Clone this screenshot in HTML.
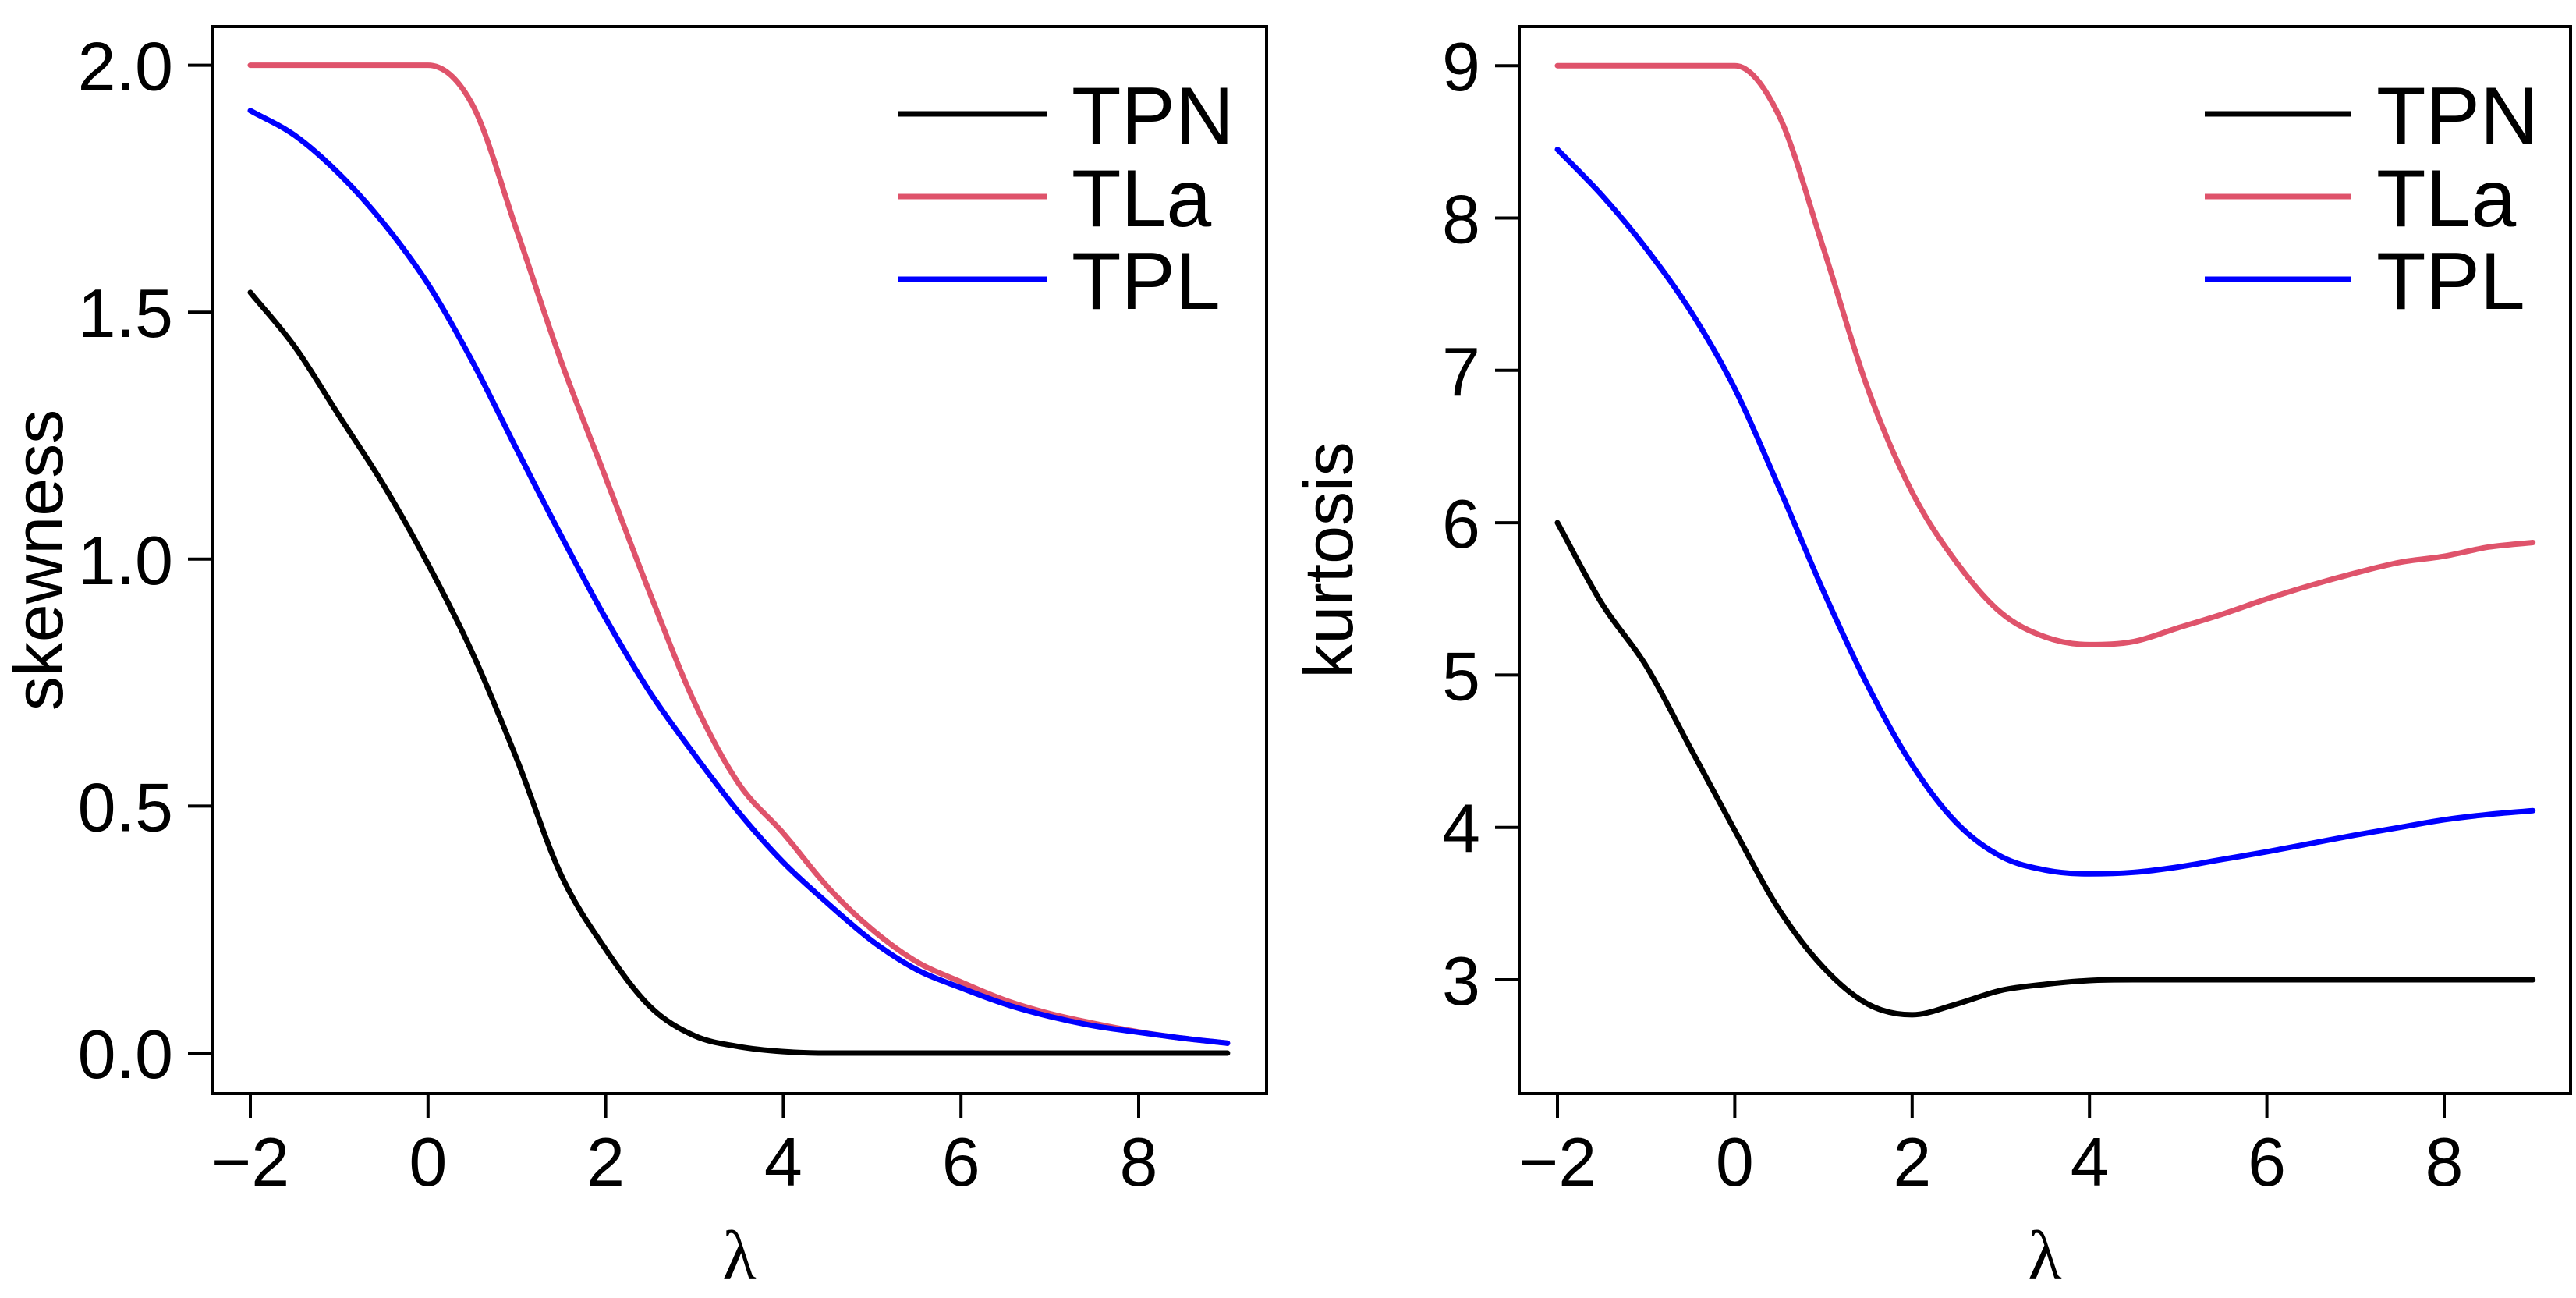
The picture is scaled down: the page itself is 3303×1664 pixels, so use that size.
<!DOCTYPE html>
<html><head><meta charset="utf-8"><style>
html,body{margin:0;padding:0;background:#fff;}
svg{display:block;font-family:"Liberation Sans",Arial,sans-serif;}
</style></head><body>
<svg id="fig" width="3303" height="1664" viewBox="0 0 3303 1664" xmlns="http://www.w3.org/2000/svg"></svg>
<script>
const lambdas=[-2,-1.5,-1,-0.5,0,0.5,1,1.5,2,2.5,3,3.5,4,4.5,5,5.5,6,6.5,7,7.5,8,8.5,9];
const skewTPN=[1.54,1.43,1.29,1.15,0.99,0.81,0.595,0.36,0.21,0.094,0.035,0.013,0.003,0,0,0,0,0,0,0,0,0,0];
const skewTLa=[2,2,2,2,2,1.92,1.665,1.40,1.165,0.93,0.71,0.545,0.445,0.336,0.25,0.185,0.144,0.107,0.08,0.06,0.043,0.03,0.02];
const skewTPL=[1.908,1.858,1.78,1.68,1.557,1.40,1.222,1.047,0.88,0.73,0.604,0.487,0.386,0.303,0.227,0.169,0.132,0.099,0.074,0.055,0.042,0.03,0.02];
const kurtTPN=[6.0,5.47,5.06,4.52,3.98,3.46,3.08,2.84,2.77,2.84,2.93,2.97,2.995,3,3,3,3,3,3,3,3,3,3];
const kurtTLa=[9,9,9,9,9,8.67,7.80,6.88,6.20,5.74,5.41,5.25,5.20,5.22,5.31,5.40,5.50,5.59,5.67,5.74,5.78,5.84,5.87];
const kurtTPL=[8.45,8.15,7.80,7.39,6.88,6.23,5.55,4.93,4.41,4.03,3.81,3.72,3.695,3.705,3.74,3.79,3.84,3.895,3.95,4.00,4.05,4.085,4.11];
const xTicks=[-2,0,2,4,6,8];
const skewTicks=[0,0.5,1,1.5,2];
const skewTickLabels=["0.0","0.5","1.0","1.5","2.0"];
const kurtTicks=[3,4,5,6,7,8,9];
const kurtTickLabels=["3","4","5","6","7","8","9"];
const seriesNames=["TPN","TLa","TPL"];
const seriesColors=["#000000","#DF536B","#0000FF"];

const NS="http://www.w3.org/2000/svg";
const svg=document.getElementById('fig');
function mk(tag,attrs,parent){const e=document.createElementNS(NS,tag);for(const k in attrs)e.setAttribute(k,attrs[k]);(parent||svg).appendChild(e);return e;}
// monotone cubic (Fritsch-Carlson) in pixel space
function smoothPath(pts){
  const n=pts.length,dx=[],m=[],t=new Array(n);
  for(let i=0;i<n-1;i++){dx.push(pts[i+1][0]-pts[i][0]);m.push((pts[i+1][1]-pts[i][1])/dx[i]);}
  t[0]=m[0];t[n-1]=m[n-2];
  for(let i=1;i<n-1;i++){t[i]=(m[i-1]*m[i]<=0)?0:(m[i-1]+m[i])/2;}
  for(let i=0;i<n-1;i++){
    if(m[i]===0){t[i]=0;t[i+1]=0;continue;}
    const a=t[i]/m[i],b=t[i+1]/m[i],s=a*a+b*b;
    if(s>9){const k=3/Math.sqrt(s);t[i]=k*a*m[i];t[i+1]=k*b*m[i];}
  }
  let d=`M${pts[0][0]},${pts[0][1]}`;
  for(let i=0;i<n-1;i++){const h=dx[i]/3;
    d+=` C${pts[i][0]+h},${pts[i][1]+t[i]*h} ${pts[i+1][0]-h},${pts[i+1][1]-t[i+1]*h} ${pts[i+1][0]},${pts[i+1][1]}`;}
  return d;}

function panel(cfg){
  const g=mk('g',{});
  
  
  const X=v=>cfg.x0+(v-(-2))*cfg.xu;
  const Y=v=>cfg.y0-(v-cfg.ybase)*cfg.yu;
  const box=mk('rect',{x:cfg.bx1,y:34,width:cfg.bx2-cfg.bx1,height:1368,fill:'none',stroke:'#000','stroke-width':4},g);
  
  
  const xa=mk('g',{},g);
  
  
  mk('line',{x1:X(-2),x2:X(8),y1:1402,y2:1402,stroke:'#000','stroke-width':4},xa);
  xTicks.forEach(t=>{
    mk('line',{x1:X(t),x2:X(t),y1:1402,y2:1433,stroke:'#000','stroke-width':4},xa);
    const tx=mk('text',{x:X(t),y:1520,'font-size':88,'text-anchor':'middle'},xa);
    tx.textContent=(t<0?'\u2212':'')+Math.abs(t);
    
    
  });
  const xt=mk('text',{x:(cfg.bx1+cfg.bx2)/2,y:1640,'font-size':90,'text-anchor':'middle','font-family':'Liberation Serif, serif'},g);
  xt.textContent='\u03BB';
  
  
  const ya=mk('g',{},g);
  
  
  mk('line',{x1:cfg.bx1,x2:cfg.bx1,y1:Y(cfg.yt[0]),y2:Y(cfg.yt[cfg.yt.length-1]),stroke:'#000','stroke-width':4},ya);
  cfg.yt.forEach((t,i)=>{
    mk('line',{x1:cfg.bx1-31,x2:cfg.bx1,y1:Y(t),y2:Y(t),stroke:'#000','stroke-width':4},ya);
    const tx=mk('text',{x:cfg.bx1-50,y:Y(t)+32,'font-size':88,'text-anchor':'end'},ya);
    tx.textContent=cfg.ytl[i];
    
    
  });
  const yt=mk('text',{x:0,y:0,'font-size':88,'text-anchor':'middle',transform:`translate(${cfg.ytx},718) rotate(-90)`},g);
  yt.textContent=cfg.ytitle;
  
  
  cfg.series.forEach((s,i)=>{
    const pts=lambdas.map((l,j)=>[X(l),Y(s[j])]);
    const p=mk('path',{d:smoothPath(pts),fill:'none',stroke:seriesColors[i],'stroke-width':7,'stroke-linejoin':'round','stroke-linecap':'round'},g);
    
    
  });
  const lg=mk('g',{},g);
  
  
  seriesNames.forEach((n,i)=>{
    const y=146+i*106;
    const e=mk('g',{},lg);
    
    
    mk('line',{x1:cfg.lx1,x2:cfg.lx2,y1:y,y2:y,stroke:seriesColors[i],'stroke-width':7},e);
    const t=mk('text',{x:cfg.lx2+32,y:y+38,'font-size':104},e);
    t.textContent=n;
  });
}
panel({name:'skewness-panel',bx1:272,bx2:1624,x0:321,xu:113.9,y0:1350,ybase:0,yu:633.2,yt:skewTicks,ytl:skewTickLabels,ytitle:'skewness',ytx:80,series:[skewTPN,skewTLa,skewTPL],lx1:1151,lx2:1342});
panel({name:'kurtosis-panel',bx1:1948,bx2:3296,x0:1997,xu:113.7,y0:1256,ybase:3,yu:195.3,yt:kurtTicks,ytl:kurtTickLabels,ytitle:'kurtosis',ytx:1734,series:[kurtTPN,kurtTLa,kurtTPL],lx1:2827,lx2:3015});
</script>
</body></html>
